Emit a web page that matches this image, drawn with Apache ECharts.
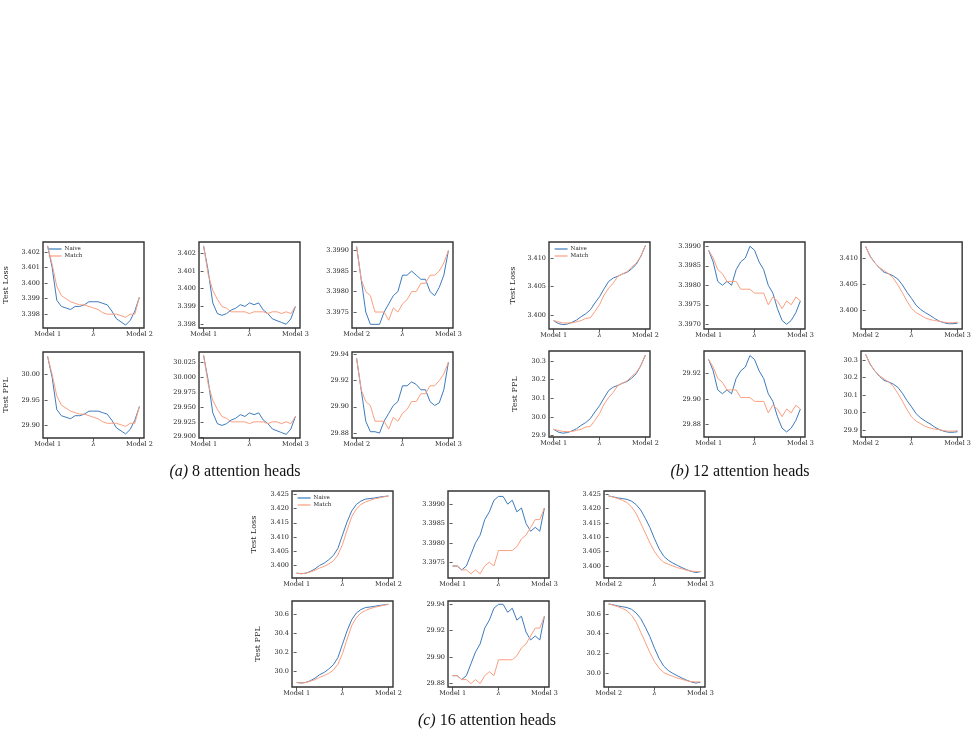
<!DOCTYPE html>
<html>
<head>
<meta charset="utf-8">
<script src="https://cdn.jsdelivr.net/npm/echarts@6/dist/echarts.min.js"></script>
<style>
  html, body { margin: 0; background: #fff; }
  #main { width: 974px; height: 750px; }
</style>
</head>
<body>
<div id="main"></div>
<script>
// interpolation coefficient between the two endpoint models
const LAMBDA = [0, 0.05, 0.1, 0.15, 0.2, 0.25, 0.3, 0.35, 0.4, 0.45, 0.5, 0.55, 0.6, 0.65, 0.7, 0.75, 0.8, 0.85, 0.9, 0.95, 1]

const xLabels12 = ['Model 1', 'λ', 'Model 2']
const xLabels13 = ['Model 1', 'λ', 'Model 3']
const xLabels23 = ['Model 2', 'λ', 'Model 3']

// (a) 8 attention heads
const a1LossNaive = [3.4024, 3.4010, 3.3989, 3.3985, 3.3984, 3.3983, 3.3985, 3.3985, 3.3986, 3.3988, 3.3988, 3.3988, 3.3987, 3.3986, 3.3982, 3.3977, 3.3975, 3.3973, 3.3976, 3.3982, 3.3991]
const a1LossMatch = [3.4024, 3.4012, 3.3998, 3.3992, 3.3990, 3.3988, 3.3987, 3.3986, 3.3986, 3.3985, 3.3984, 3.3983, 3.3981, 3.3980, 3.3980, 3.3980, 3.3979, 3.3978, 3.3980, 3.3980, 3.3991]
const a1PplNaive = [30.036, 29.994, 29.931, 29.919, 29.916, 29.913, 29.919, 29.919, 29.922, 29.928, 29.928, 29.928, 29.925, 29.922, 29.910, 29.895, 29.889, 29.883, 29.892, 29.910, 29.937]
const a1PplMatch = [30.036, 30.000, 29.958, 29.940, 29.934, 29.928, 29.925, 29.922, 29.922, 29.919, 29.916, 29.913, 29.907, 29.904, 29.904, 29.904, 29.901, 29.898, 29.904, 29.904, 29.937]
const a2LossNaive = [3.4024, 3.4010, 3.3992, 3.3986, 3.3985, 3.3986, 3.3988, 3.3989, 3.3991, 3.3990, 3.3992, 3.3991, 3.3992, 3.3988, 3.3986, 3.3983, 3.3982, 3.3981, 3.3980, 3.3983, 3.3990]
const a2LossMatch = [3.4024, 3.4008, 3.3999, 3.3994, 3.3990, 3.3989, 3.3987, 3.3987, 3.3987, 3.3987, 3.3986, 3.3987, 3.3987, 3.3987, 3.3986, 3.3987, 3.3987, 3.3986, 3.3987, 3.3986, 3.3990]
const a2PplNaive = [30.036, 29.994, 29.940, 29.922, 29.919, 29.922, 29.928, 29.931, 29.937, 29.934, 29.940, 29.937, 29.940, 29.928, 29.922, 29.913, 29.910, 29.907, 29.904, 29.913, 29.934]
const a2PplMatch = [30.036, 29.988, 29.961, 29.946, 29.934, 29.931, 29.925, 29.925, 29.925, 29.925, 29.922, 29.925, 29.925, 29.925, 29.922, 29.925, 29.925, 29.922, 29.925, 29.922, 29.934]
const a3LossNaive = [3.3991, 3.3983, 3.3975, 3.3972, 3.3972, 3.3972, 3.3975, 3.3977, 3.3979, 3.3980, 3.3984, 3.3984, 3.3985, 3.3984, 3.3983, 3.3983, 3.3980, 3.3979, 3.3981, 3.3984, 3.3990]
const a3LossMatch = [3.3991, 3.3983, 3.3980, 3.3979, 3.3975, 3.3975, 3.3975, 3.3973, 3.3976, 3.3975, 3.3977, 3.3978, 3.3980, 3.3980, 3.3982, 3.3982, 3.3984, 3.3984, 3.3985, 3.3987, 3.3990]
const a3PplNaive = [29.937, 29.913, 29.889, 29.881, 29.881, 29.880, 29.889, 29.895, 29.901, 29.904, 29.916, 29.916, 29.919, 29.917, 29.913, 29.913, 29.904, 29.901, 29.903, 29.913, 29.934]
const a3PplMatch = [29.937, 29.913, 29.904, 29.901, 29.889, 29.889, 29.889, 29.883, 29.892, 29.889, 29.895, 29.898, 29.904, 29.904, 29.910, 29.910, 29.916, 29.916, 29.920, 29.925, 29.934]

// (b) 12 attention heads
const b1LossNaive = [3.3990, 3.3985, 3.3983, 3.3984, 3.3987, 3.3991, 3.3997, 3.4002, 3.4009, 3.4021, 3.4032, 3.4046, 3.4059, 3.4065, 3.4068, 3.4072, 3.4075, 3.4081, 3.4089, 3.4103, 3.4122]
const b1LossMatch = [3.3990, 3.3988, 3.3986, 3.3986, 3.3986, 3.3988, 3.3990, 3.3994, 3.3995, 3.4006, 3.4018, 3.4035, 3.4047, 3.4056, 3.4068, 3.4072, 3.4076, 3.4084, 3.4091, 3.4103, 3.4122]
const b1PplNaive = [29.934, 29.919, 29.913, 29.916, 29.925, 29.937, 29.955, 29.970, 29.991, 30.027, 30.060, 30.102, 30.142, 30.160, 30.169, 30.181, 30.190, 30.208, 30.232, 30.275, 30.332]
const b1PplMatch = [29.934, 29.928, 29.922, 29.922, 29.922, 29.928, 29.934, 29.946, 29.949, 29.982, 30.018, 30.069, 30.105, 30.132, 30.169, 30.181, 30.193, 30.217, 30.238, 30.275, 30.332]
const b2LossNaive = [3.3989, 3.3986, 3.3981, 3.3980, 3.3981, 3.3980, 3.3984, 3.3986, 3.3987, 3.3990, 3.3989, 3.3986, 3.3984, 3.3980, 3.3978, 3.3974, 3.3971, 3.3970, 3.3971, 3.3973, 3.3976]
const b2LossMatch = [3.3989, 3.3987, 3.3984, 3.3983, 3.3981, 3.3981, 3.3981, 3.3979, 3.3979, 3.3979, 3.3978, 3.3978, 3.3978, 3.3975, 3.3977, 3.3976, 3.3974, 3.3976, 3.3975, 3.3977, 3.3976]
const b2PplNaive = [29.931, 29.922, 29.907, 29.904, 29.907, 29.904, 29.916, 29.922, 29.925, 29.934, 29.931, 29.922, 29.916, 29.904, 29.898, 29.886, 29.877, 29.874, 29.877, 29.883, 29.892]
const b2PplMatch = [29.931, 29.925, 29.916, 29.913, 29.907, 29.907, 29.907, 29.901, 29.901, 29.901, 29.898, 29.898, 29.898, 29.889, 29.895, 29.892, 29.886, 29.892, 29.889, 29.895, 29.892]
const b3LossNaive = [3.4122, 3.4103, 3.4091, 3.4081, 3.4073, 3.4070, 3.4066, 3.4060, 3.4049, 3.4035, 3.4023, 3.4010, 3.4002, 3.3996, 3.3991, 3.3985, 3.3980, 3.3977, 3.3975, 3.3975, 3.3976]
const b3LossMatch = [3.4122, 3.4103, 3.4091, 3.4082, 3.4076, 3.4070, 3.4062, 3.4049, 3.4034, 3.4018, 3.4004, 3.3996, 3.3991, 3.3986, 3.3983, 3.3981, 3.3980, 3.3978, 3.3977, 3.3977, 3.3978]
const b3PplNaive = [30.332, 30.275, 30.238, 30.208, 30.184, 30.175, 30.163, 30.145, 30.111, 30.069, 30.033, 29.994, 29.970, 29.952, 29.937, 29.919, 29.904, 29.895, 29.889, 29.889, 29.892]
const b3PplMatch = [30.332, 30.275, 30.238, 30.211, 30.193, 30.175, 30.151, 30.111, 30.066, 30.018, 29.976, 29.952, 29.937, 29.922, 29.913, 29.907, 29.904, 29.898, 29.895, 29.895, 29.898]

// (c) 16 attention heads
const c1LossNaive = [3.3973, 3.3971, 3.3973, 3.3979, 3.3988, 3.4000, 3.4008, 3.4020, 3.4035, 3.4060, 3.4107, 3.4153, 3.4191, 3.4214, 3.4226, 3.4233, 3.4235, 3.4237, 3.4240, 3.4242, 3.4244]
const c1LossMatch = [3.3973, 3.3971, 3.3973, 3.3977, 3.3983, 3.3991, 3.3997, 3.4005, 3.4016, 3.4037, 3.4074, 3.4124, 3.4171, 3.4198, 3.4214, 3.4223, 3.4229, 3.4234, 3.4237, 3.4241, 3.4244]
const c1PplNaive = [29.883, 29.877, 29.883, 29.901, 29.928, 29.964, 29.988, 30.024, 30.069, 30.144, 30.286, 30.426, 30.542, 30.613, 30.650, 30.671, 30.677, 30.684, 30.693, 30.699, 30.705]
const c1PplMatch = [29.883, 29.877, 29.883, 29.895, 29.913, 29.937, 29.955, 29.979, 30.012, 30.075, 30.187, 30.338, 30.481, 30.564, 30.613, 30.641, 30.659, 30.674, 30.684, 30.696, 30.705]
const c2LossNaive = [3.3974, 3.3974, 3.3973, 3.3974, 3.3977, 3.3980, 3.3982, 3.3986, 3.3988, 3.3991, 3.3992, 3.3992, 3.3990, 3.3991, 3.3988, 3.3989, 3.3985, 3.3983, 3.3984, 3.3983, 3.3989]
const c2LossMatch = [3.3974, 3.3974, 3.3973, 3.3973, 3.3972, 3.3973, 3.3972, 3.3974, 3.3975, 3.3974, 3.3978, 3.3978, 3.3978, 3.3978, 3.3979, 3.3981, 3.3982, 3.3984, 3.3986, 3.3986, 3.3989]
const c2PplNaive = [29.886, 29.886, 29.883, 29.886, 29.895, 29.904, 29.910, 29.922, 29.928, 29.937, 29.940, 29.940, 29.934, 29.937, 29.928, 29.931, 29.919, 29.913, 29.916, 29.913, 29.931]
const c2PplMatch = [29.886, 29.886, 29.883, 29.883, 29.880, 29.883, 29.880, 29.886, 29.889, 29.886, 29.898, 29.898, 29.898, 29.898, 29.901, 29.907, 29.910, 29.916, 29.922, 29.922, 29.931]
const c3LossNaive = [3.4244, 3.4241, 3.4237, 3.4235, 3.4232, 3.4226, 3.4214, 3.4195, 3.4166, 3.4134, 3.4095, 3.4060, 3.4034, 3.4020, 3.4010, 3.4002, 3.3994, 3.3987, 3.3981, 3.3977, 3.3980]
const c3LossMatch = [3.4244, 3.4240, 3.4235, 3.4229, 3.4221, 3.4206, 3.4183, 3.4149, 3.4115, 3.4080, 3.4050, 3.4028, 3.4013, 3.4006, 3.4000, 3.3994, 3.3990, 3.3985, 3.3982, 3.3981, 3.3981]
const c3PplNaive = [30.705, 30.696, 30.684, 30.677, 30.668, 30.650, 30.613, 30.555, 30.467, 30.370, 30.252, 30.147, 30.069, 30.024, 29.994, 29.970, 29.946, 29.925, 29.907, 29.895, 29.904]
const c3PplMatch = [30.705, 30.693, 30.677, 30.659, 30.635, 30.589, 30.519, 30.416, 30.313, 30.206, 30.115, 30.048, 30.003, 29.982, 29.964, 29.946, 29.934, 29.919, 29.910, 29.907, 29.907]

// y tick labels
const ticksLossA = [3.398, 3.399, 3.400, 3.401, 3.402]
const ticksLossA3 = [3.3975, 3.3980, 3.3985, 3.3990]
const ticksPplA1 = [29.90, 29.95, 30.00]
const ticksPplA2 = [29.900, 29.925, 29.950, 29.975, 30.000, 30.025]
const ticksPplA3 = [29.88, 29.90, 29.92, 29.94]
const ticksLossB13 = [3.400, 3.405, 3.410]
const ticksLossB2 = [3.3970, 3.3975, 3.3980, 3.3985, 3.3990]
const ticksPplB13 = [29.9, 30.0, 30.1, 30.2, 30.3]
const ticksPplB2 = [29.88, 29.90, 29.92]
const ticksLossC13 = [3.400, 3.405, 3.410, 3.415, 3.420, 3.425]
const ticksLossC2 = [3.3975, 3.3980, 3.3985, 3.3990]
const ticksPplC13 = [30.0, 30.2, 30.4, 30.6]
const ticksPplC2 = [29.88, 29.90, 29.92, 29.94]

const BLUE = '#3d7bbd'
const ORANGE = '#fb9f80'
const FONT = 'DejaVu Serif'

// box: [left, top, width, height]
const panels = [
  { box: [43, 242, 101, 86], naive: a1LossNaive, match: a1LossMatch, xl: xLabels12, ticks: ticksLossA, dec: 3, range: [3.39711, 3.40265], name: 'Test Loss', gap: 33, legend: true },
  { box: [199, 242, 101, 86], naive: a2LossNaive, match: a2LossMatch, xl: xLabels13, ticks: ticksLossA, dec: 3, range: [3.39779, 3.40262] },
  { box: [352, 242, 101, 86], naive: a3LossNaive, match: a3LossMatch, xl: xLabels23, ticks: ticksLossA3, dec: 4, range: [3.39711, 3.39921] },
  { box: [43, 352, 101, 86], naive: a1PplNaive, match: a1PplMatch, xl: xLabels12, ticks: ticksPplA1, dec: 2, range: [29.875, 30.0446], name: 'Test PPL', gap: 33 },
  { box: [199, 352, 101, 86], naive: a2PplNaive, match: a2PplMatch, xl: xLabels13, ticks: ticksPplA2, dec: 3, range: [29.898, 30.0417] },
  { box: [352, 352, 101, 86], naive: a3PplNaive, match: a3PplMatch, xl: xLabels23, ticks: ticksPplA3, dec: 2, range: [29.8762, 29.9418] },

  { box: [549, 242, 101, 87], naive: b1LossNaive, match: b1LossMatch, xl: xLabels12, ticks: ticksLossB13, dec: 3, range: [3.39753, 3.41282], name: 'Test Loss', gap: 32, legend: true },
  { box: [704, 242, 101, 87], naive: b2LossNaive, match: b2LossMatch, xl: xLabels13, ticks: ticksLossB2, dec: 4, range: [3.39688, 3.39911] },
  { box: [861, 242, 102, 87], naive: b3LossNaive, match: b3LossMatch, xl: xLabels23, ticks: ticksLossB13, dec: 3, range: [3.3965, 3.41304] },
  { box: [549, 351, 101, 86], naive: b1PplNaive, match: b1PplMatch, xl: xLabels12, ticks: ticksPplB13, dec: 1, range: [29.8925, 30.3536], name: 'Test PPL', gap: 30 },
  { box: [704, 351, 101, 86], naive: b2PplNaive, match: b2PplMatch, xl: xLabels13, ticks: ticksPplB2, dec: 2, range: [29.870, 29.9376] },
  { box: [861, 351, 102, 86], naive: b3PplNaive, match: b3PplMatch, xl: xLabels23, ticks: ticksPplB13, dec: 1, range: [29.862, 30.351] },

  { box: [292, 491, 101, 87], naive: c1LossNaive, match: c1LossMatch, xl: xLabels12, ticks: ticksLossC13, dec: 3, range: [3.3956, 3.42615], name: 'Test Loss', gap: 34, legend: true },
  { box: [448, 491, 101, 87], naive: c2LossNaive, match: c2LossMatch, xl: xLabels13, ticks: ticksLossC2, dec: 4, range: [3.39709, 3.39934] },
  { box: [604, 491, 101, 87], naive: c3LossNaive, match: c3LossMatch, xl: xLabels23, ticks: ticksLossC13, dec: 3, range: [3.3958, 3.42613] },
  { box: [292, 601, 101, 86], naive: c1PplNaive, match: c1PplMatch, xl: xLabels12, ticks: ticksPplC13, dec: 1, range: [29.835, 30.74], name: 'Test PPL', gap: 30 },
  { box: [448, 601, 101, 86], naive: c2PplNaive, match: c2PplMatch, xl: xLabels13, ticks: ticksPplC2, dec: 2, range: [29.8774, 29.9425] },
  { box: [604, 601, 101, 86], naive: c3PplNaive, match: c3PplMatch, xl: xLabels23, ticks: ticksPplC13, dec: 1, range: [29.855, 30.735] },
]

const grid = []
const xAxis = []
const yAxis = []
const series = []
const legend = []

panels.forEach((p, i) => {
  grid.push({
    left: p.box[0], top: p.box[1], width: p.box[2], height: p.box[3],
    show: true, borderColor: '#333', borderWidth: 1.4, backgroundColor: '#fff',
  })
  xAxis.push({
    type: 'value', gridIndex: i, min: -0.05, max: 1.05,
    axisLine: { show: false },
    splitLine: { show: false },
    axisTick: { show: true, length: 3, customValues: [0, 0.5, 1], lineStyle: { color: '#333', width: 0.8 } },
    axisLabel: {
      customValues: [0, 0.5, 1], margin: 3, color: '#222', fontFamily: FONT, fontSize: 6.5,
      formatter: v => (v === 0 ? p.xl[0] : v === 1 ? p.xl[2] : '{l|' + p.xl[1] + '}'),
      rich: { l: { fontStyle: 'italic', fontFamily: FONT, fontSize: 6.5, color: '#222' } },
    },
  })
  yAxis.push({
    type: 'value', gridIndex: i, min: p.range[0], max: p.range[1],
    name: p.name || '', nameLocation: 'middle', nameGap: p.gap || 0,
    nameTextStyle: { fontFamily: FONT, fontSize: 8, color: '#222' },
    axisLine: { show: false },
    splitLine: { show: false },
    axisTick: { show: true, length: 3, customValues: p.ticks, lineStyle: { color: '#333', width: 0.8 } },
    axisLabel: {
      customValues: p.ticks, margin: 3, color: '#222', fontFamily: FONT, fontSize: 6.5,
      formatter: v => v.toFixed(p.dec),
    },
  })
  series.push({
    name: 'Naive', type: 'line', xAxisIndex: i, yAxisIndex: i, symbol: 'none',
    data: LAMBDA.map((l, k) => [l, p.naive[k]]),
    lineStyle: { color: BLUE, width: 1 }, itemStyle: { color: BLUE },
  })
  series.push({
    name: 'Match', type: 'line', xAxisIndex: i, yAxisIndex: i, symbol: 'none',
    data: LAMBDA.map((l, k) => [l, p.match[k]]),
    lineStyle: { color: ORANGE, width: 1 }, itemStyle: { color: ORANGE },
  })
  if (p.legend) {
    legend.push({
      data: ['Naive', 'Match'], orient: 'vertical', selectedMode: false,
      left: p.box[0] + 5, top: p.box[1] + 4, padding: 0,
      itemWidth: 13, itemHeight: 7, itemGap: 1,
      itemStyle: { opacity: 0 },
      lineStyle: { width: 1.2 },
      textStyle: { fontFamily: FONT, fontSize: 5.5, color: '#222', padding: [0, 0, 0, -2] },
    })
  }
})

const captionFont = 'Liberation Serif'
const caption = (text, x, y) => ({
  type: 'text', x: x, y: y,
  style: {
    text: text, align: 'center', verticalAlign: 'middle',
    fontFamily: captionFont, fontSize: 16, fill: '#111',
    rich: { i: { fontStyle: 'italic', fontFamily: captionFont, fontSize: 16, fill: '#111' } },
  },
})

const myChart = echarts.init(document.getElementById('main'), null, { renderer: 'canvas' })
myChart.setOption({
  animation: false,
  backgroundColor: '#fff',
  grid: grid,
  xAxis: xAxis,
  yAxis: yAxis,
  legend: legend,
  series: series,
  graphic: [
    caption('{i|(a)} 8 attention heads', 235, 472),
    caption('{i|(b)} 12 attention heads', 740, 472),
    caption('{i|(c)} 16 attention heads', 487, 721),
  ],
})
</script>
</body>
</html>
